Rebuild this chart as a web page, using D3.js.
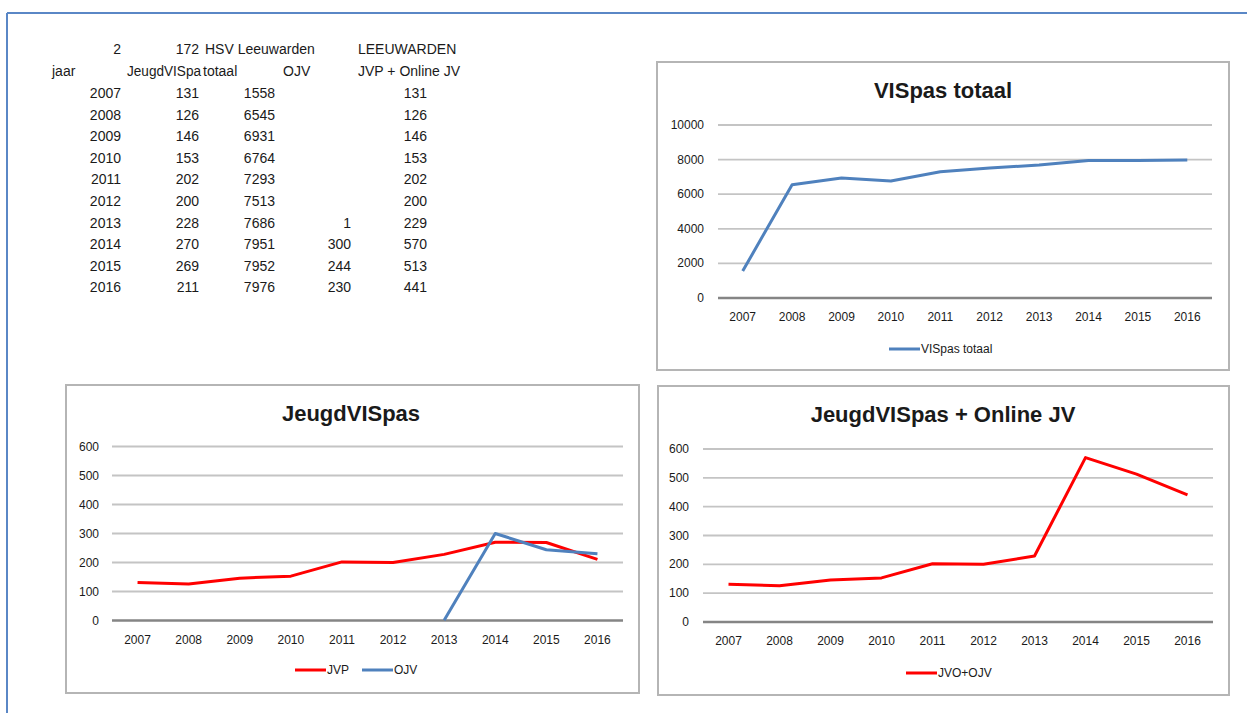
<!DOCTYPE html>
<html>
<head>
<meta charset="utf-8">
<title>VISpas Leeuwarden</title>
<style>
	body { margin: 0; background: #fff; }
	svg text { font-family: "Liberation Sans", Arial, sans-serif; fill: #1a1a1a; }
</style>
</head>
<body>
<script src="https://cdn.jsdelivr.net/npm/d3@7"></script>
<script>
	// data
	var years = ["2007", "2008", "2009", "2010", "2011", "2012", "2013", "2014", "2015", "2016"];
	var jeugdVispas = [131, 126, 146, 153, 202, 200, 228, 270, 269, 211];
	var vispasTotaal = [1558, 6545, 6931, 6764, 7293, 7513, 7686, 7951, 7952, 7976];
	var ojv = [null, null, null, null, null, null, 1, 300, 244, 230];
	var jvpOnline = [131, 126, 146, 153, 202, 200, 229, 570, 513, 441];

	var headerTop = ["2", "172", "HSV Leeuwarden", "LEEUWARDEN"];
	// second header cell is cut off by the next cell in the sheet
	var headerCols = ["jaar", "JeugdVISpa", "totaal", "OJV", "JVP + Online JV"];

	var ticksTotaal = [0, 2000, 4000, 6000, 8000, 10000];
	var ticksJeugd = [0, 100, 200, 300, 400, 500, 600];

	var blue = "#4f81bd", red = "#ff0000";

	var w = 1247, h = 713;
	var svg = d3.select("body").append("svg")
			.attr("width", w)
			.attr("height", h);

	// blue sheet frame
	svg.append("line").attr("x1", 7).attr("x2", w).attr("y1", 13).attr("y2", 13)
		.attr("stroke", "#5a87c6").attr("stroke-width", 2);
	svg.append("line").attr("x1", 7).attr("x2", 7).attr("y1", 13).attr("y2", h)
		.attr("stroke", "#5a87c6").attr("stroke-width", 2);

	// ---- spreadsheet cells ----
	var tbl = svg.append("g").style("font-size", "14px");
	var colRight = [121, 199, 275, 351, 427];
	var rowY = function(i) { return 98 + i * 21.6; };

	tbl.append("text").attr("x", colRight[0]).attr("y", 54).attr("text-anchor", "end").text(headerTop[0]);
	tbl.append("text").attr("x", colRight[1]).attr("y", 54).attr("text-anchor", "end").text(headerTop[1]);
	tbl.append("text").attr("x", 205).attr("y", 54).text(headerTop[2]);
	tbl.append("text").attr("x", 358).attr("y", 54).text(headerTop[3]);

	tbl.append("text").attr("x", 52).attr("y", 76).text(headerCols[0]);
	tbl.append("text").attr("x", 127).attr("y", 76)
		.attr("textLength", 74).attr("lengthAdjust", "spacingAndGlyphs")
		.text(headerCols[1]);
	tbl.append("text").attr("x", 203).attr("y", 76).text(headerCols[2]);
	tbl.append("text").attr("x", 283).attr("y", 76).text(headerCols[3]);
	tbl.append("text").attr("x", 358).attr("y", 76).text(headerCols[4]);

	var cols = [years, jeugdVispas, vispasTotaal, ojv, jvpOnline];
	cols.forEach(function(col, c) {
		tbl.selectAll("text.c" + c)
			.data(col)
			.enter()
			.append("text")
				.attr("class", "c" + c)
				.attr("x", colRight[c])
				.attr("y", function(d, i) { return rowY(i); })
				.attr("text-anchor", "end")
				.text(function(d) { return d == null ? "" : d; });
	});

	// ---- charts ----
	function drawChart(o) {
		var g = svg.append("g");
		g.append("rect")
			.attr("x", o.box[0]).attr("y", o.box[1])
			.attr("width", o.box[2]).attr("height", o.box[3])
			.attr("fill", "#fff").attr("stroke", "#b5b5b5").attr("stroke-width", 2);

		g.append("text")
			.attr("x", o.titleX).attr("y", o.titleY)
			.attr("text-anchor", "middle")
			.style("font-size", "22px").style("font-weight", "bold")
			.text(o.title);

		var x = d3.scaleBand().domain(years).range([o.left, o.right]);
		var y = d3.scaleLinear().domain([0, d3.max(o.ticks)]).range([o.bottom, o.top]);

		g.selectAll("line.grid")
			.data(o.ticks)
			.enter()
			.append("line")
				.attr("class", "grid")
				.attr("x1", o.left).attr("x2", o.right)
				.attr("y1", function(d) { return y(d); })
				.attr("y2", function(d) { return y(d); })
				.attr("stroke", function(d) { return d === 0 ? "#858585" : "#c4c4c4"; })
				.attr("stroke-width", function(d) { return d === 0 ? 2.5 : 1.8; });

		g.selectAll("text.ytick")
			.data(o.ticks)
			.enter()
			.append("text")
				.attr("class", "ytick")
				.attr("x", o.left - o.labelGap)
				.attr("y", function(d) { return y(d) + 4; })
				.attr("text-anchor", "end")
				.style("font-size", "12px")
				.text(function(d) { return d; });

		g.selectAll("text.xtick")
			.data(years)
			.enter()
			.append("text")
				.attr("class", "xtick")
				.attr("x", function(d) { return x(d) + x.bandwidth() / 2; })
				.attr("y", o.bottom + 23)
				.attr("text-anchor", "middle")
				.style("font-size", "12px")
				.text(function(d) { return d; });

		var line = d3.line()
			.defined(function(d) { return d != null; })
			.x(function(d, i) { return x(years[i]) + x.bandwidth() / 2; })
			.y(function(d) { return y(d); });

		o.series.forEach(function(s) {
			g.append("path")
				.datum(s.values)
				.attr("d", line)
				.attr("fill", "none")
				.attr("stroke", s.color)
				.attr("stroke-width", 3)
				.attr("stroke-linejoin", "round");
		});

		// legend
		var lx = o.legendX;
		o.series.forEach(function(s) {
			g.append("line")
				.attr("x1", lx).attr("x2", lx + 31)
				.attr("y1", o.legendY).attr("y2", o.legendY)
				.attr("stroke", s.color).attr("stroke-width", 3);
			var t = g.append("text")
				.attr("x", lx + 32).attr("y", o.legendY + 4)
				.style("font-size", "12px")
				.text(s.name);
			lx += 32 + t.node().getComputedTextLength() + 13;
		});
	}

	drawChart({
		box: [657, 62, 572, 308], title: "VISpas totaal", titleX: 943, titleY: 98,
		left: 718, right: 1212, top: 125, bottom: 298, labelGap: 14,
		ticks: ticksTotaal, legendX: 889, legendY: 349,
		series: [{ name: "VISpas totaal", values: vispasTotaal, color: blue }]
	});

	drawChart({
		box: [66, 385, 573, 308], title: "JeugdVISpas", titleX: 351, titleY: 421,
		left: 112, right: 623, top: 446.5, bottom: 620.5, labelGap: 13,
		ticks: ticksJeugd, legendX: 295, legendY: 670,
		series: [
			{ name: "JVP", values: jeugdVispas, color: red },
			{ name: "OJV", values: ojv, color: blue }
		]
	});

	drawChart({
		box: [658, 386, 571, 309], title: "JeugdVISpas + Online JV", titleX: 943, titleY: 422,
		left: 703, right: 1213, top: 449, bottom: 622, labelGap: 14,
		ticks: ticksJeugd, legendX: 906, legendY: 673,
		series: [{ name: "JVO+OJV", values: jvpOnline, color: red }]
	});
</script>
</body>
</html>
